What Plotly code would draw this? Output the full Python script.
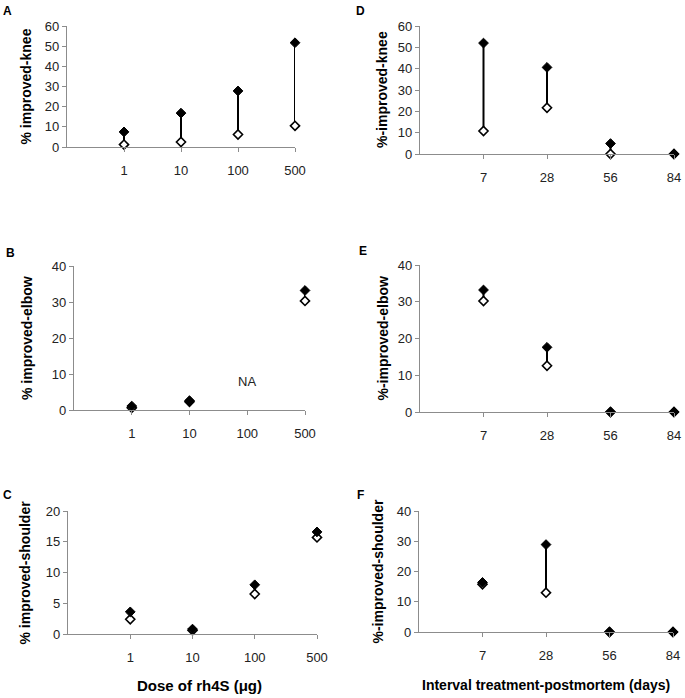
import plotly.graph_objects as go

W, H = 685, 698

dose_labels = ["1", "10", "100", "500"]
interval_labels = ["7", "28", "56", "84"]

# Panel A: knee vs dose
knee_dose_filled = [7.5, 16.8, 27.8, 51.7]
knee_dose_open = [1.2, 2.5, 6.2, 10.5]
# Panel B: elbow vs dose (100 = NA)
elbow_dose_filled = [1.1, 2.6, None, 33.2]
elbow_dose_open = [0.6, 2.3, None, 30.3]
# Panel C: shoulder vs dose
shoulder_dose_filled = [3.6, 0.8, 8.0, 16.6]
shoulder_dose_open = [2.4, 0.6, 6.5, 15.7]
# Panel D: knee vs interval
knee_int_filled = [52.0, 40.6, 4.9, 0.0]
knee_int_open = [10.8, 21.7, 0.0, 0.0]
# Panel E: elbow vs interval
elbow_int_filled = [33.2, 17.6, 0.0, 0.0]
elbow_int_open = [30.2, 12.6, 0.0, 0.0]
# Panel F: shoulder vs interval
shoulder_int_filled = [16.4, 28.9, 0.0, 0.0]
shoulder_int_open = [15.8, 13.0, 0.0, 0.0]

FONT = "Liberation Sans, Arial, sans-serif"
AXC = "#8c8c8c"

panels = [
    # letter, ytitle, ymax, dtick, labels, filled, open, px domain x, px domain y (top,bottom), title x px, letter pos
    ("A", "% improved-knee", 60, 10, dose_labels, knee_dose_filled, knee_dose_open, (67, 295), (26, 147), 25, (8, 11)),
    ("B", "% improved-elbow", 40, 10, dose_labels, elbow_dose_filled, elbow_dose_open, (74, 305), (266, 410), 27, (10, 253)),
    ("C", "% improved-shoulder", 20, 5, dose_labels, shoulder_dose_filled, shoulder_dose_open, (68, 317), (511, 634), 24, (8, 495)),
    ("D", "%-improved-knee", 60, 10, interval_labels, knee_int_filled, knee_int_open, (420, 674), (26, 154), 382, (361, 11)),
    ("E", "%-improved-elbow", 40, 10, interval_labels, elbow_int_filled, elbow_int_open, (420, 674), (265, 412), 382, (363, 251)),
    ("F", "%-improved-shoulder", 40, 10, interval_labels, shoulder_int_filled, shoulder_int_open, (419, 673), (511, 632), 377, (361, 495)),
]

fig = go.Figure()
annotations = []

for i, (letter, ytitle, ymax, dtick, labels, filled, opn, dx, dy, tx, lpos) in enumerate(panels):
    n = i + 1
    xa = "x" if n == 1 else f"x{n}"
    ya = "y" if n == 1 else f"y{n}"
    xs = [1, 2, 3, 4]
    # connecting lines
    lx, ly = [], []
    for x, f, o in zip(xs, filled, opn):
        if f is None or o is None:
            continue
        lx += [x, x, None]
        ly += [o, f, None]
    fig.add_trace(go.Scatter(x=lx, y=ly, mode="lines", xaxis=xa, yaxis=ya,
                             line=dict(color="black", width=2), showlegend=False,
                             cliponaxis=False, hoverinfo="skip"))
    fig.add_trace(go.Scatter(x=xs, y=opn, mode="markers", xaxis=xa, yaxis=ya,
                             marker=dict(symbol="diamond", size=7, color="white",
                                         line=dict(color="black", width=1.6)),
                             showlegend=False, cliponaxis=False))
    fig.add_trace(go.Scatter(x=xs, y=filled, mode="markers", xaxis=xa, yaxis=ya,
                             marker=dict(symbol="diamond", size=7.5, color="black",
                                         line=dict(color="black", width=1)),
                             showlegend=False, cliponaxis=False))
    xdom = [dx[0] / W, dx[1] / W]
    ydom = [1 - dy[1] / H, 1 - dy[0] / H]
    fig.layout[("xaxis" if n == 1 else f"xaxis{n}")] = dict(
        domain=xdom, anchor=ya, range=[0, 4], tickmode="array", tickvals=xs,
        ticktext=labels, showline=True, linecolor=AXC, linewidth=1.2,
        ticks="outside", ticklen=4, tickcolor=AXC, showgrid=False, zeroline=False,
        tickfont=dict(family=FONT, size=13, color="#222"), ticklabelstandoff=7,
        automargin=False, fixedrange=True)
    fig.layout[("yaxis" if n == 1 else f"yaxis{n}")] = dict(
        domain=ydom, anchor=xa, range=[0, ymax], dtick=dtick, tick0=0,
        showline=True, linecolor=AXC, linewidth=1.2, ticks="outside", ticklen=4,
        tickcolor=AXC, showgrid=False, zeroline=False,
        tickfont=dict(family=FONT, size=13, color="#222"),
        automargin=False, fixedrange=True)
    annotations.append(dict(text=f"<b>{ytitle}</b>", textangle=-90, xref="paper", yref="paper",
                            x=tx / W, y=1 - (dy[0] + dy[1]) / 2 / H, showarrow=False,
                            xanchor="center", yanchor="middle",
                            font=dict(family=FONT, size=14, color="black")))
    annotations.append(dict(text=f"<b>{letter}</b>", xref="paper", yref="paper",
                            x=lpos[0] / W, y=1 - lpos[1] / H, showarrow=False,
                            xanchor="center", yanchor="middle",
                            font=dict(family=FONT, size=12, color="black")))

annotations.append(dict(text="NA", xref="x2", yref="y2", x=3, y=7.8, showarrow=False,
                        font=dict(family=FONT, size=13, color="#222")))
annotations.append(dict(text="<b>Dose of rh4S (μg)</b>", xref="paper", yref="paper",
                        x=200 / W, y=1 - 685 / H, showarrow=False, xanchor="center", yanchor="middle",
                        font=dict(family=FONT, size=15, color="black")))
annotations.append(dict(text="<b>Interval treatment-postmortem (days)</b>", xref="paper", yref="paper",
                        x=546 / W, y=1 - 685 / H, showarrow=False, xanchor="center", yanchor="middle",
                        font=dict(family=FONT, size=14, color="black")))

fig.update_layout(width=W, height=H, margin=dict(l=0, r=0, t=0, b=0),
                  paper_bgcolor="white", plot_bgcolor="white",
                  annotations=annotations, showlegend=False)

fig.write_html("out.html", config={"displayModeBar": False},
               post_script="document.body.style.margin='0';document.body.style.padding='0';")
